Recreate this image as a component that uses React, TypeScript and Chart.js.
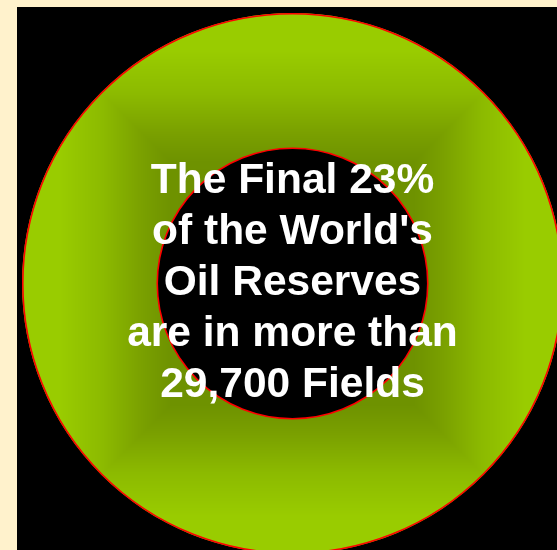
import React, { useEffect, useRef } from "react";
import { Chart, registerables } from "chart.js";

Chart.register(...registerables);

const categories: string[] = ["Final 23% of World Oil Reserves"];
const values: number[] = [100];
const centerLines: string[] = [
  "The Final 23%",
  "of the World's",
  "Oil Reserves",
  "are in more than",
  "29,700 Fields",
];

// rectangular (square path) gradient stops: [t, r, g, b]
const gradientStops: number[][] = [
  [0.0, 104, 138, 0],
  [0.45, 110, 146, 0],
  [0.55, 121, 159, 0],
  [0.7, 140, 186, 0],
  [0.86, 153, 204, 0],
  [1.0, 153, 204, 0],
];

function colorAt(t: number): number[] {
  if (t <= gradientStops[0][0]) return gradientStops[0].slice(1);
  for (let i = 1; i < gradientStops.length; i++) {
    const a = gradientStops[i - 1];
    const b = gradientStops[i];
    if (t <= b[0]) {
      const f = (t - a[0]) / (b[0] - a[0]);
      return [
        a[1] + (b[1] - a[1]) * f,
        a[2] + (b[2] - a[2]) * f,
        a[3] + (b[3] - a[3]) * f,
      ];
    }
  }
  return gradientStops[gradientStops.length - 1].slice(1);
}

let patternCache: { key: string; pattern: CanvasPattern | null } | null = null;

function squarePattern(chart: any): CanvasPattern | string {
  const ca = chart.chartArea;
  if (!ca) return "#99cc00";
  const w = chart.width;
  const h = chart.height;
  const cx = (ca.left + ca.right) / 2;
  const cy = (ca.top + ca.bottom) / 2;
  const H = Math.min(ca.right - ca.left, ca.bottom - ca.top) / 2;
  const key = [w, h, cx, cy, H].join(",");
  if (patternCache && patternCache.key === key && patternCache.pattern) {
    return patternCache.pattern;
  }
  const off = document.createElement("canvas");
  off.width = w;
  off.height = h;
  const octx = off.getContext("2d")!;
  const img = octx.createImageData(w, h);
  for (let y = 0; y < h; y++) {
    for (let x = 0; x < w; x++) {
      const t = Math.max(Math.abs(x + 0.5 - cx), Math.abs(y + 0.5 - cy)) / H;
      const c = colorAt(t);
      const i = (y * w + x) * 4;
      img.data[i] = c[0];
      img.data[i + 1] = c[1];
      img.data[i + 2] = c[2];
      img.data[i + 3] = 255;
    }
  }
  octx.putImageData(img, 0, 0);
  const pattern = chart.ctx.createPattern(off, "no-repeat");
  patternCache = { key, pattern };
  return pattern || "#99cc00";
}

const ringBorderPlugin = {
  id: "ringBorder",
  afterDatasetsDraw(chart: any) {
    const meta = chart.getDatasetMeta(0);
    const arc = meta.data[0];
    if (!arc) return;
    const { x, y, outerRadius, innerRadius } = arc.getProps(
      ["x", "y", "outerRadius", "innerRadius"],
      true
    );
    const ctx = chart.ctx;
    ctx.save();
    ctx.strokeStyle = "#ff0000";
    ctx.lineWidth = 1.6;
    ctx.beginPath();
    ctx.arc(x, y, outerRadius - 0.8, 0, Math.PI * 2);
    ctx.stroke();
    ctx.beginPath();
    ctx.arc(x, y, innerRadius, 0, Math.PI * 2);
    ctx.stroke();
    ctx.restore();
  },
};

export default function App() {
  const canvasRef = useRef<HTMLCanvasElement | null>(null);

  useEffect(() => {
    if (!canvasRef.current) return;
    const chart = new Chart(canvasRef.current, {
      type: "doughnut",
      data: {
        labels: categories,
        datasets: [
          {
            data: values,
            borderWidth: 0,
            backgroundColor: (c: any) => squarePattern(c.chart),
          },
        ],
      },
      options: {
        responsive: false,
        animation: false,
        cutout: "50%",
        layout: { padding: 0 },
        plugins: {
          legend: { display: false },
          tooltip: { enabled: false },
          title: { display: false },
        },
      },
      plugins: [ringBorderPlugin],
    });
    return () => chart.destroy();
  }, []);

  return (
    <div
      style={{
        position: "absolute",
        left: 0,
        top: 0,
        width: 557,
        height: 550,
        background: "#fff2cc",
        overflow: "hidden",
      }}
    >
      <div
        style={{
          position: "absolute",
          left: 17,
          top: 7,
          right: 0,
          bottom: 0,
          background: "#000000",
        }}
      />
      <canvas
        ref={canvasRef}
        width={541}
        height={541}
        style={{ position: "absolute", left: 22, top: 13, width: 541, height: 541 }}
      />
      <div
        style={{
          position: "absolute",
          left: 0,
          width: 585,
          top: 153,
          textAlign: "center",
          color: "#ffffff",
          fontFamily: "'Liberation Sans', Arial, sans-serif",
          fontWeight: "bold",
          fontSize: 42.5,
          lineHeight: "51px",
          whiteSpace: "pre",
        }}
      >
        {centerLines.join("\n")}
      </div>
    </div>
  );
}
